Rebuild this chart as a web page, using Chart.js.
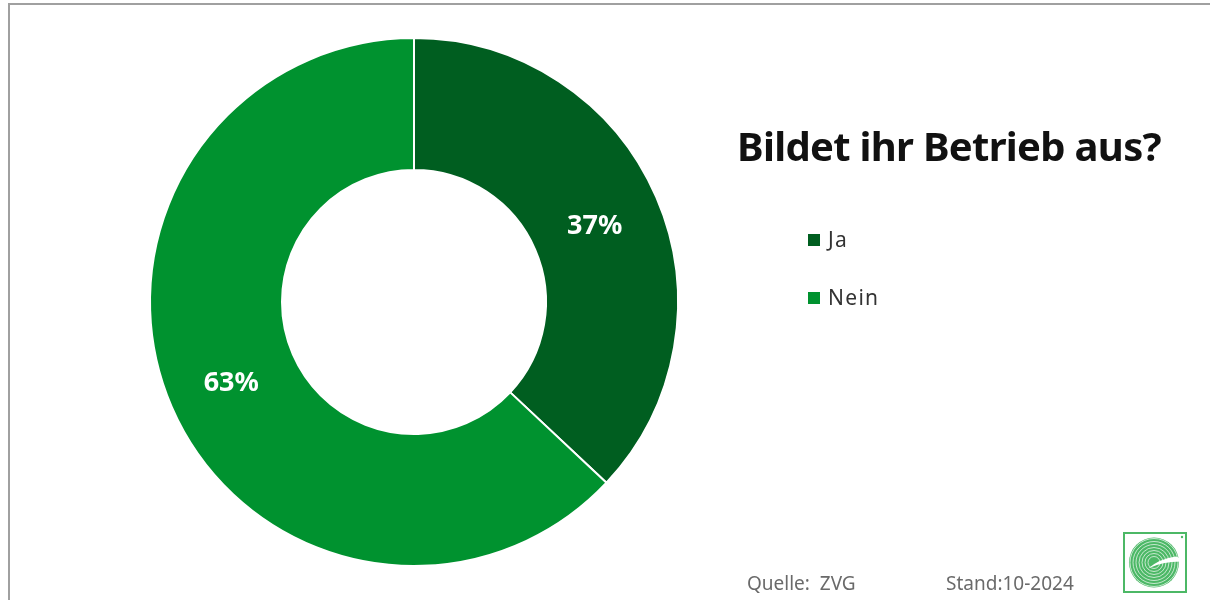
<!DOCTYPE html>
<html>
<head>
<meta charset="utf-8">
<script src="https://cdn.jsdelivr.net/npm/chart.js@4/dist/chart.umd.min.js"></script>
<style>
  html, body { margin: 0; padding: 0; background: #fff; }
  #wrap { position: relative; width: 1210px; height: 600px; overflow: hidden; background: #fff; }
  #frame { position: absolute; left: 8px; top: 3px; width: 1300px; height: 700px;
           border-top: 2px solid #a0a0a0; border-left: 2px solid #a0a0a0; box-sizing: border-box; }
  canvas { position: absolute; left: 0; top: 0; }
  #title { position: absolute; left: 737px; top: 118px; font-family: "Noto Sans", sans-serif;
           font-weight: bold; font-size: 40px; color: #111; white-space: nowrap; letter-spacing: -0.7px; }
  #legend { position: absolute; left: 808px; top: 226px; font-family: "Noto Sans", sans-serif;
            font-size: 21px; color: #333; letter-spacing: 1.3px; }
  .li { position: absolute; left: 0; white-space: nowrap; height: 26px; line-height: 26px; }
  .sw { display: inline-block; width: 12px; height: 12px; vertical-align: middle; margin-right: 8px; position: relative; top: -1px; }
  .foot { position: absolute; top: 570px; font-family: "Noto Sans", sans-serif; font-size: 19px; color: #6a6a6a; white-space: nowrap; }
</style>
</head>
<body>
<div id="wrap">
  <div id="frame"></div>
  <canvas id="c" width="1210" height="600"></canvas>
  <div id="title">Bildet ihr Betrieb aus?</div>
  <div id="legend"></div>
  <div class="foot" style="left:747px">Quelle:&nbsp; ZVG</div>
  <div class="foot" style="left:946px">Stand:10-2024</div>
</div>
<script>
const categories = ["Ja", "Nein"];
const values = [37, 63];
const valueLabels = ["37%", "63%"];
const colors = ["#005E20", "#00922F"];

// HTML legend built from the arrays
const legendEl = document.getElementById('legend');
categories.forEach((name, i) => {
  const d = document.createElement('div');
  d.className = 'li';
  d.style.top = (i * 58) + 'px';
  d.innerHTML = '<span class="sw" style="background:' + colors[i] + '"></span>' + name;
  legendEl.appendChild(d);
});

const labelPlugin = {
  id: 'sliceLabels',
  afterDatasetsDraw(chart) {
    const ctx = chart.ctx;
    const meta = chart.getDatasetMeta(0);
    ctx.save();
    ctx.fillStyle = '#ffffff';
    ctx.font = 'bold 27px "Noto Sans", sans-serif';
    ctx.textAlign = 'center';
    ctx.textBaseline = 'middle';
    meta.data.forEach((arc, i) => {
      const p = arc.tooltipPosition();
      ctx.fillText(valueLabels[i], p.x - 1, p.y + 3);
    });
    ctx.restore();
  }
};

const logoPlugin = {
  id: 'logo',
  afterDraw(chart) {
    const ctx = chart.ctx;
    const x0 = 1124, y0 = 533, w = 62, h = 59;
    ctx.save();
    ctx.strokeStyle = '#4cb866';
    ctx.lineWidth = 2;
    ctx.strokeRect(x0, y0, w, h);
    const cx = x0 + w / 2 - 1, cy = y0 + h / 2;
    // filled disc
    ctx.fillStyle = '#4cb866';
    ctx.beginPath();
    ctx.arc(cx, cy, 25, 0, 2 * Math.PI);
    ctx.fill();
    // white ring lines
    ctx.strokeStyle = 'rgba(255,255,255,0.75)';
    ctx.lineWidth = 0.9;
    for (let r = 6; r <= 24; r += 3) {
      ctx.beginPath();
      ctx.arc(cx, cy, r, 0, 2 * Math.PI);
      ctx.stroke();
    }
    // G opening: white gap from centre to the right
    ctx.fillStyle = '#ffffff';
    ctx.beginPath();
    ctx.moveTo(cx - 6, cy + 6);
    ctx.quadraticCurveTo(cx + 6, cy - 4, cx + 22, cy - 6);
    ctx.lineTo(cx + 27, cy - 4);
    ctx.lineTo(cx + 27, cy - 1);
    ctx.quadraticCurveTo(cx + 8, cy - 1, cx - 6, cy + 6);
    ctx.fill();
    // registered mark dot
    ctx.fillStyle = '#4cb866';
    ctx.beginPath();
    ctx.arc(x0 + w - 4, y0 + 4, 1.2, 0, 2 * Math.PI);
    ctx.fill();
    ctx.restore();
  }
};

new Chart(document.getElementById('c'), {
  type: 'doughnut',
  data: {
    labels: categories,
    datasets: [{
      data: values,
      backgroundColor: colors,
      borderColor: '#ffffff',
      borderWidth: 2,
      hoverOffset: 0
    }]
  },
  options: {
    responsive: false,
    animation: false,
    cutout: '50%',
    layout: { padding: { left: 149, right: 531, top: 37, bottom: 33 } },
    plugins: {
      legend: { display: false },
      title: { display: false },
      tooltip: { enabled: false }
    },
    events: []
  },
  plugins: [labelPlugin, logoPlugin]
});
</script>
</body>
</html>
